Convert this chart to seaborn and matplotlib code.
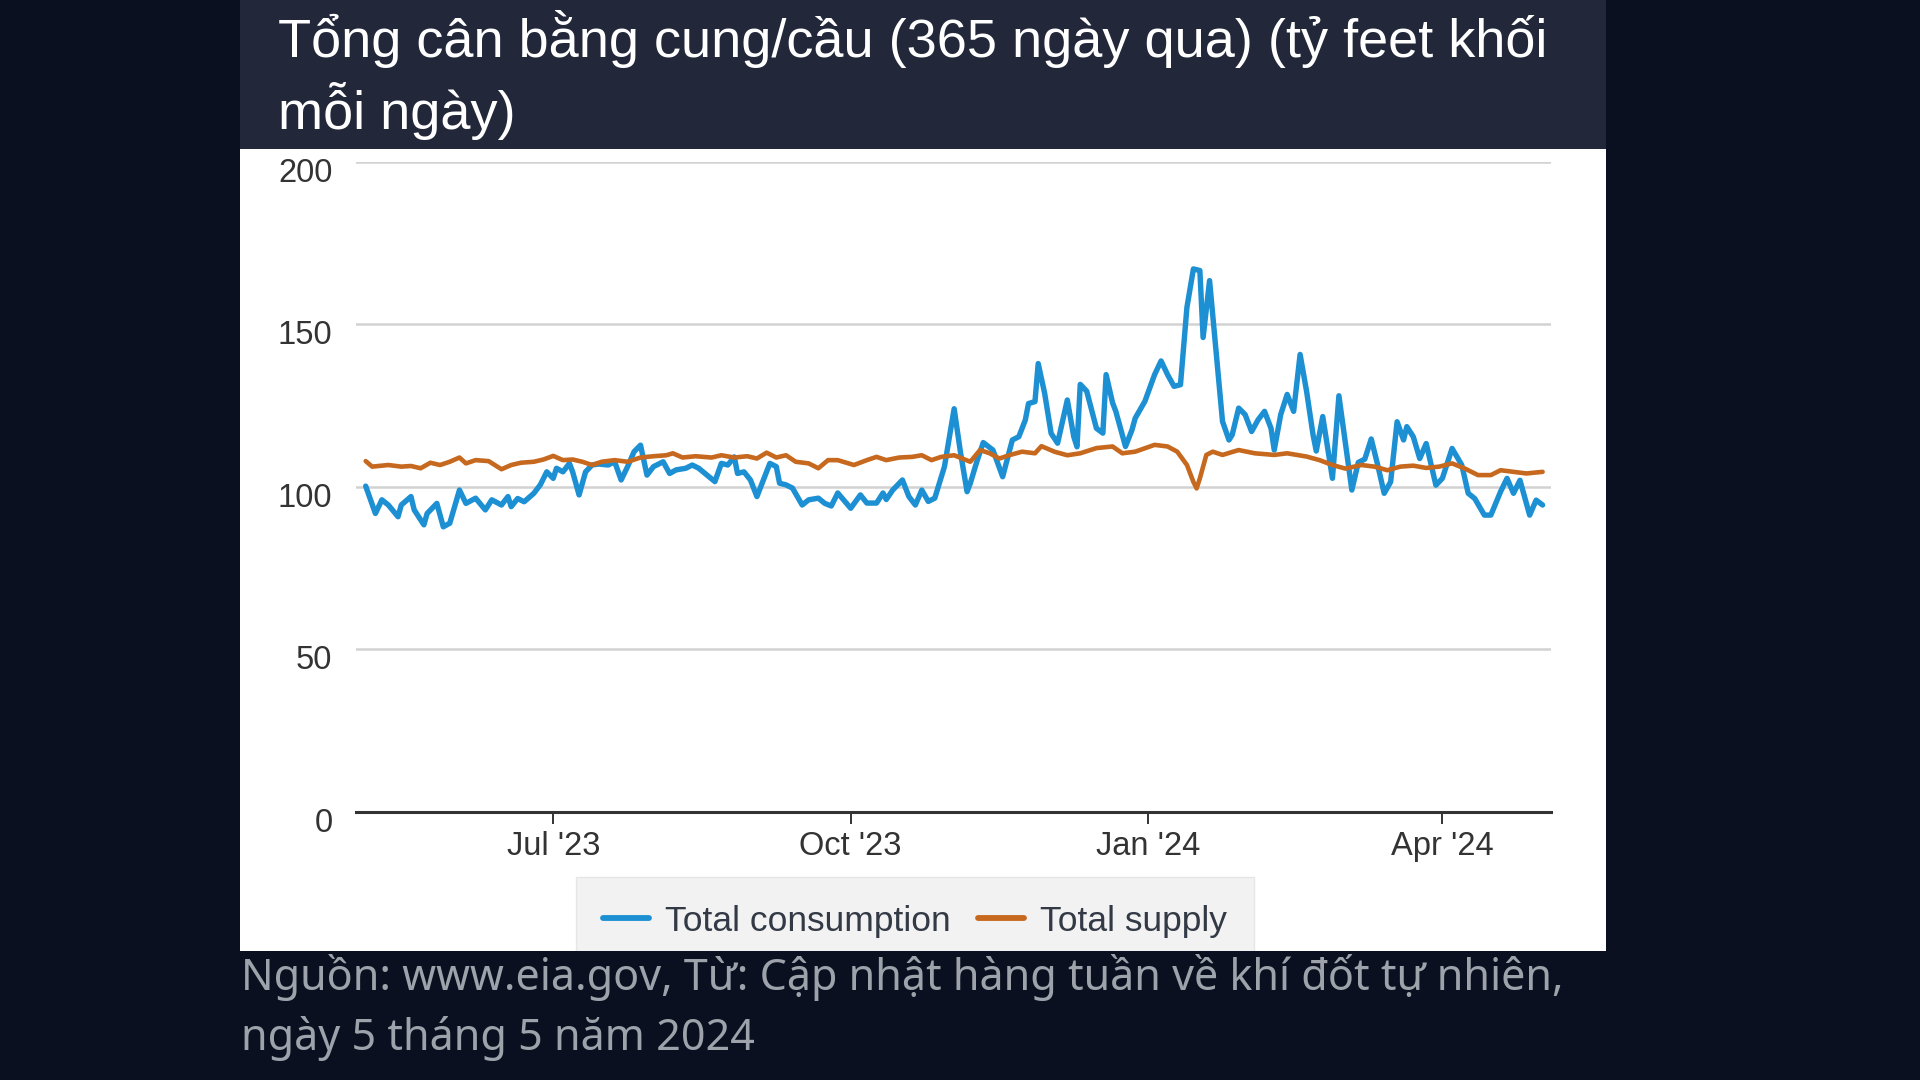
import numpy as np
import pandas as pd
import matplotlib
matplotlib.use("Agg")
import matplotlib.pyplot as plt
import matplotlib.dates as mdates
import matplotlib.transforms as mtrans
from matplotlib.patches import Rectangle
import seaborn as sns

# ---------------- data ----------------
START = "2023-05-01"  # day 0 of the 365-day window

cons_day = [3, 6, 8, 10, 13, 14, 17, 18, 21, 22, 25, 27, 29, 32, 34, 37, 40, 42, 45, 47,
            48, 50, 52, 55, 57, 59, 61, 62, 64, 66, 67, 69, 71, 73, 75, 78, 80, 82, 84, 86,
            88, 90, 92, 95, 97, 99, 102, 104, 106, 111, 113, 115, 117, 118, 120, 122, 124, 126, 128, 130,
            131, 133, 135, 138, 140, 143, 145, 147, 149, 153, 156, 158, 161, 163, 164, 166, 169, 171, 173, 175,
            177, 179, 182, 185, 187, 189, 190, 192, 194, 197, 200, 203, 205, 207, 208, 210, 211, 213, 215, 217,
            220, 222, 223, 224, 226, 229, 231, 232, 234, 235, 238, 240, 241, 244, 247, 249, 251, 253, 255, 257,
            259, 261, 262, 264, 266, 268, 270, 271, 273, 275, 277, 279, 281, 283, 284, 286, 288, 290, 292, 294,
            296, 297, 299, 302, 304, 308, 310, 312, 314, 316, 318, 320, 322, 324, 325, 327, 329, 331, 334, 336,
            339, 342, 344, 346, 349, 351, 354, 356, 358, 360, 363, 365, 367]
cons_val = [100.2, 91.8, 96, 94.4, 90.8, 94.4, 97, 92.9, 88.3, 91.8, 94.9, 87.7, 88.8, 99, 94.9, 96.5, 92.9, 96, 94.4, 97,
            93.9, 96.4, 95.4, 98, 100.6, 104.6, 102.6, 105.7, 104.6, 107.2, 104.6, 97.5, 104.6, 106.7, 107, 106.7, 107.7, 102.1, 106.2, 110.8,
            112.8, 103.6, 106.2, 107.7, 104.1, 105.2, 105.7, 106.7, 105.7, 101.6, 107.2, 106.7, 109.2, 104.1, 104.6, 102.1, 97, 102.1, 107.2, 106.2,
            101.1, 100.6, 99.6, 94.4, 96, 96.5, 94.9, 94.1, 98.1, 93.4, 97.5, 95, 95, 98.1, 96.1, 99, 102.1, 97, 94.4, 99,
            95.5, 96.5, 106.2, 124, 110.3, 98.5, 101.1, 107.7, 113.6, 111.3, 103.1, 114.4, 115.4, 120.5, 125.6, 126.2, 137.9, 128.7, 116.4, 113.4,
            126.7, 115.4, 112.3, 131.5, 129.4, 118, 116.5, 134.5, 125.8, 123.2, 112.4, 117.5, 121.1, 126.3, 134.5, 138.7, 134.5, 130.9, 131.4, 155.2,
            167, 166.5, 145.9, 163.4, 141.8, 120.1, 114.4, 116, 124.2, 122.2, 117, 120.6, 123.2, 118, 111.3, 122.2, 128.4, 123.2, 140.7, 129.4,
            116, 111, 121.6, 102.6, 128, 99, 107.5, 108.5, 114.7, 106.7, 98, 101.5, 120, 114.4, 118.5, 115.4, 108.7, 113.3, 100.5, 102.6,
            111.8, 106.7, 98, 96.4, 91.3, 91.3, 98.5, 102.6, 98, 102, 91.3, 95.9, 94.4]

sup_day = [3, 5, 10, 14, 17, 20, 23, 26, 29, 32, 34, 37, 41, 45, 48, 51, 55, 58, 61, 64,
           67, 70, 73, 76, 80, 84, 88, 92, 96, 98, 101, 105, 110, 113, 117, 121, 124, 127, 130, 133,
           136, 140, 143, 146, 149, 154, 158, 161, 164, 168, 172, 175, 178, 181, 185, 190, 193, 196, 199, 202,
           206, 210, 212, 216, 220, 224, 229, 234, 237, 241, 247, 251, 254, 257, 259, 260, 261, 263, 265, 268,
           273, 278, 284, 288, 294, 298, 302, 306, 311, 315, 319, 323, 327, 331, 335, 339, 343, 347, 351, 354,
           358, 362, 367]
sup_val = [107.9, 106.2, 106.7, 106.2, 106.4, 105.7, 107.4, 106.7, 107.7, 109, 107.2, 108.2, 107.9, 105.4, 106.7, 107.4, 107.7, 108.4, 109.5, 108.2,
           108.4, 107.7, 106.7, 107.7, 108.2, 107.7, 109, 109.4, 109.7, 110.3, 109, 109.4, 109, 109.7, 109, 109.4, 108.7, 110.5, 109, 109.7,
           107.7, 107.2, 105.7, 108.2, 108.2, 106.7, 108.2, 109.2, 108.2, 109, 109.2, 109.7, 108.2, 109.2, 109.7, 107.7, 111.3, 110.3, 108.7, 109.7,
           110.8, 110.3, 112.5, 110.8, 109.7, 110.3, 111.9, 112.4, 110.3, 110.8, 112.9, 112.4, 110.8, 106.7, 101.5, 99.5, 102.6, 109.8, 110.8, 109.8,
           111.3, 110.3, 109.8, 110.3, 109.3, 108.2, 106.7, 105.6, 106.7, 106.2, 105.1, 106.2, 106.5, 105.8, 106.2, 107.2, 105.6, 103.6, 103.6, 105.1,
           104.6, 104.1, 104.6]

series_names = ["Total consumption", "Total supply"]
xtick_dates = ["2023-07-01", "2023-10-01", "2024-01-01", "2024-04-01"]
xtick_labels = ["Jul '23", "Oct '23", "Jan '24", "Apr '24"]
ytick_vals = [0, 50, 100, 150, 200]
x_end_day = 369.6

title_lines = ["Tổng cân bằng cung/cầu (365 ngày qua) (tỷ feet khối", "mỗi ngày)"]
caption_lines = ["Nguồn: www.eia.gov, Từ: Cập nhật hàng tuần về khí đốt tự nhiên,",
                 "ngày 5 tháng 5 năm 2024"]

# ---------------- style ----------------
BG = "#0a1020"
BAND = "#22273a"
BLUE = "#1c90d3"
ORANGE = "#c6681e"
GRID = "#d2d2d2"
TXT = "#333333"
CAPTION = "#9ea3ab"

sns.set_theme(style="white")
plt.rcParams["font.family"] = ["Liberation Sans", "DejaVu Sans"]

W, H = 1920, 1080
fig = plt.figure(figsize=(19.2, 10.8), dpi=100, facecolor=BG)

def fx(px):
    return px / W

def fy(py):
    return 1 - py / H

# title band and white panel (behind the axes)
band = Rectangle((fx(240), fy(149)), fx(1606) - fx(240), fy(0) - fy(149),
                 transform=fig.transFigure, facecolor=BAND, edgecolor="none", zorder=-10)
panel = Rectangle((fx(240), fy(951)), fx(1606) - fx(240), fy(149) - fy(951),
                  transform=fig.transFigure, facecolor="white", edgecolor="none", zorder=-10)
fig.patches.append(band)
fig.patches.append(panel)

ax = fig.add_axes([fx(356), fy(812), fx(1551) - fx(356), fy(161.6) - fy(812)])
ax.set_zorder(5)
ax.set_facecolor("white")

start = pd.Timestamp(START)
df_c = pd.DataFrame({"date": start + pd.to_timedelta(cons_day, unit="D"), "value": cons_val})
df_s = pd.DataFrame({"date": start + pd.to_timedelta(sup_day, unit="D"), "value": sup_val})

sns.lineplot(data=df_c, x="date", y="value", ax=ax, color=BLUE, linewidth=3.9,
             label=series_names[0], solid_joinstyle="round", solid_capstyle="round", zorder=3)
sns.lineplot(data=df_s, x="date", y="value", ax=ax, color=ORANGE, linewidth=3.3,
             label=series_names[1], solid_joinstyle="round", solid_capstyle="round", zorder=4)

ax.set_xlim(start, start + pd.Timedelta(days=x_end_day))
ax.set_ylim(0, 200)
ax.set_xlabel("")
ax.set_ylabel("")

# grid
ax.set_yticks(ytick_vals)
ax.yaxis.grid(True, color=GRID, linewidth=1.8)
ax.xaxis.grid(False)
ax.set_axisbelow(True)
for s in ["left", "right", "top"]:
    ax.spines[s].set_visible(False)
ax.spines["bottom"].set_color("#333333")
ax.spines["bottom"].set_linewidth(2.2)
ax.spines["bottom"].set_zorder(5)

ax.set_xticks(pd.to_datetime(xtick_dates))
ax.set_xticklabels(xtick_labels)
ax.tick_params(axis="x", direction="out", length=8.5, width=1.4, color="#333333",
               labelsize=23.5, labelcolor=TXT, pad=5, bottom=True)
ax.tick_params(axis="y", length=0, labelsize=23.5, labelcolor=TXT, pad=17)
ax.set_yticklabels([str(v) for v in ytick_vals])
off = mtrans.ScaledTranslation(0, -8 / 100, fig.dpi_scale_trans)
for lab in ax.get_yticklabels():
    lab.set_transform(lab.get_transform() + off)

# legend (box runs past the panel's bottom edge and is clipped by it)
leg = ax.legend(loc="center", bbox_to_anchor=(fx(915), fy(921)), bbox_transform=fig.transFigure,
                ncol=2, frameon=True, fancybox=False, facecolor="#efefef", edgecolor="#e2e2e2",
                fontsize=25.5, handlelength=1.3, handletextpad=0.45, columnspacing=0.75,
                borderpad=0.78, borderaxespad=0)
leg.get_frame().set_linewidth(1.0)
leg.get_frame().set_clip_path(panel)
for t in leg.get_texts():
    t.set_color("#333a46")
for h in leg.get_lines():
    h.set_linewidth(4.2)

# title
fig.text(fx(278), fy(57), title_lines[0], color="white", fontsize=39, va="baseline", ha="left")
fig.text(fx(278), fy(129), title_lines[1], color="white", fontsize=39, va="baseline", ha="left")

# caption
fig.text(fx(241), fy(990), caption_lines[0], color=CAPTION, fontsize=31, va="baseline", ha="left",
         family=["Noto Sans", "DejaVu Sans"])
fig.text(fx(241), fy(1050), caption_lines[1], color=CAPTION, fontsize=31, va="baseline", ha="left",
         family=["Noto Sans", "DejaVu Sans"])

fig.savefig("out.png", dpi=100, facecolor=BG)
